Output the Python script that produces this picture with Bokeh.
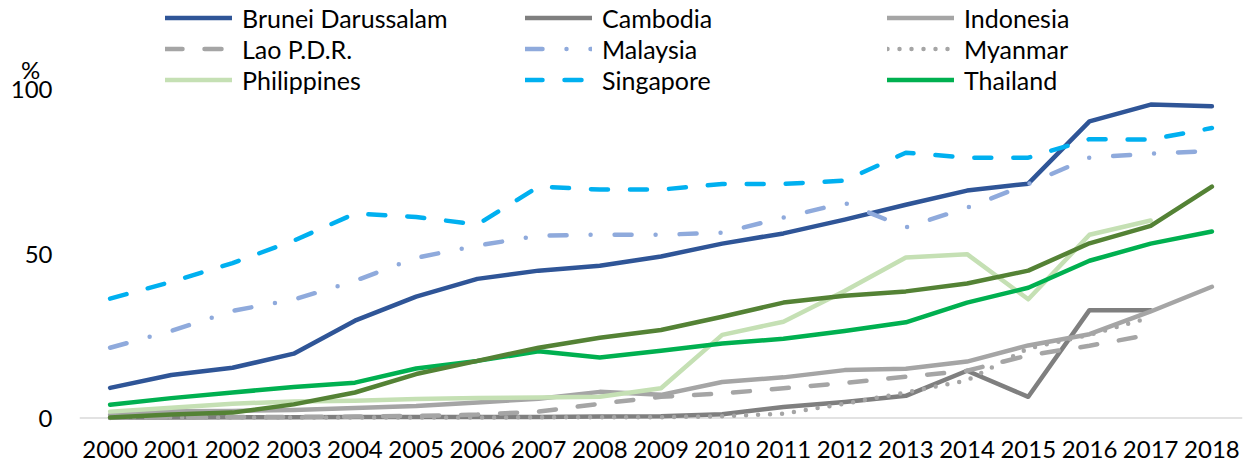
import numpy as np
from bokeh.plotting import figure
from bokeh.models import Range1d, FixedTicker, Legend, LegendItem, Span
from bokeh.embed import file_html
from bokeh.resources import INLINE

years = list(range(2000, 2019))
year_labels = [str(y) for y in years]
y_ticks = [0, 50, 100]
unit_label = "%"

brunei    = [9.1, 13.0, 15.2, 19.5, 29.5, 36.8, 42.2, 44.7, 46.2, 49.0, 52.9, 56.0, 60.2, 64.7, 69.0, 71.1, 90.0, 95.1, 94.6]
cambodia  = [0.1, 0.1, 0.2, 0.2, 0.3, 0.3, 0.3, 0.3, 0.4, 0.5, 1.1, 3.3, 4.8, 6.7, 14.3, 6.4, 32.7, 32.7, None]
indonesia = [0.9, 2.0, 2.1, 2.4, 3.0, 3.6, 4.7, 5.8, 7.9, 7.0, 10.9, 12.3, 14.5, 14.9, 17.1, 22.0, 25.4, 32.3, 39.8]
lao       = [0.1, 0.2, 0.3, 0.3, 0.4, 0.6, 1.0, 1.9, 4.3, 6.4, 7.4, 9.0, 10.6, 12.5, 14.3, 19.0, 21.9, 25.3, None]
malaysia  = [21.3, 26.4, 32.5, 35.9, 41.6, 48.6, 52.3, 55.3, 55.6, 55.6, 56.2, 60.8, 65.3, 57.8, 63.8, 71.0, 79.0, 80.2, 81.0]
myanmar   = [0.0, 0.1, 0.1, 0.1, 0.1, 0.1, 0.1, 0.2, 0.2, 0.2, 0.5, 1.3, 4.3, 7.7, 11.4, 21.1, 25.2, 30.5, None]
philippines = [1.9, 3.1, 4.3, 5.0, 5.2, 5.7, 6.0, 6.2, 6.4, 9.0, 25.2, 29.2, 38.5, 48.7, 49.7, 36.0, 55.6, 59.9, None]
singapore = [36.2, 41.3, 47.0, 53.8, 62.0, 61.0, 58.7, 70.2, 69.3, 69.3, 71.0, 71.0, 72.0, 80.5, 79.0, 79.0, 84.6, 84.5, 88.0]
thailand  = [4.0, 6.0, 7.7, 9.4, 10.7, 15.0, 17.3, 20.2, 18.3, 20.4, 22.6, 24.0, 26.4, 29.0, 35.0, 39.5, 47.7, 52.9, 56.6]
vietnam   = [0.1, 1.0, 1.6, 4.1, 7.7, 13.3, 17.3, 21.3, 24.3, 26.7, 30.7, 35.0, 37.1, 38.4, 40.8, 44.7, 53.0, 58.3, 70.2]

FONT = "Lato"

p = figure(frame_width=1163, frame_height=422,
           min_border_left=79, min_border_right=2, min_border_top=0, min_border_bottom=46,
           x_range=Range1d(1999.5, 2018.5), y_range=Range1d(-1.4, 126.7),
           output_backend="svg", toolbar_location=None)
p.outline_line_color = None
p.xgrid.visible = False
p.ygrid.visible = False
p.background_fill_color = "white"
p.border_fill_color = "white"

p.add_layout(Span(location=0, dimension="width", line_color="#D9D9D9", line_width=1.5, level="underlay"))

def arr(v):
    return [np.nan if x is None else x for x in v]

LW = 4.5
series = [
    ("Brunei Darussalam", brunei, "#2F5597", "solid"),
    ("Cambodia", cambodia, "#7F7F7F", "solid"),
    ("Indonesia", indonesia, "#A5A5A5", "solid"),
    ("Lao P.D.R.", lao, "#A5A5A5", "17 22"),
    ("Malaysia", malaysia, "#8FAADC", "17 24 0 24"),
    ("Myanmar", myanmar, "#A5A5A5", "0 12"),
    ("Philippines", philippines, "#C5E0B4", "solid"),
    ("Singapore", singapore, "#00B0F0", "17 22"),
    ("Thailand", thailand, "#00B050", "solid"),
    ("Viet Nam", vietnam, "#548235", "solid"),
]
rends = {}
for name, vals, color, dash in series:
    r = p.line(years, arr(vals), line_color=color, line_width=LW, line_dash=dash,
               line_cap="round", line_join="round")
    rends[name] = r

cols = [
    (["Brunei Darussalam", "Lao P.D.R.", "Philippines"], 86),
    (["Cambodia", "Malaysia", "Singapore"], 446),
    (["Indonesia", "Myanmar", "Thailand"], 808),
]
for names, vx in cols:
    leg = Legend(items=[LegendItem(label=n, renderers=[rends[n]]) for n in names],
                 location=(vx, 327), orientation="vertical",
                 padding=0, margin=0, spacing=0,
                 glyph_width=67, glyph_height=31, label_height=31, label_standoff=10,
                 label_text_font=FONT, label_text_font_size="25px", label_text_color="black",
                 border_line_color=None, background_fill_alpha=0)
    p.add_layout(leg, "center")

p.xaxis.ticker = FixedTicker(ticks=years)
p.xaxis.major_label_overrides = {y: s for y, s in zip(years, year_labels)}
p.xaxis.axis_line_color = None
p.xaxis.major_tick_line_color = None
p.xaxis.major_tick_out = 0
p.xaxis.major_tick_in = 0
p.xaxis.minor_tick_line_color = None
p.xaxis.major_label_standoff = 18
p.xaxis.major_label_text_font = FONT
p.xaxis.major_label_text_font_size = "24px"
p.xaxis.major_label_text_color = "black"

unit_pos = 105.8
p.yaxis.ticker = FixedTicker(ticks=y_ticks + [unit_pos])
p.yaxis.major_label_overrides = {unit_pos: unit_label + "\u00a0\u00a0"}
p.yaxis.axis_line_color = None
p.yaxis.major_tick_line_color = None
p.yaxis.major_tick_out = 0
p.yaxis.major_tick_in = 0
p.yaxis.minor_tick_line_color = None
p.yaxis.major_label_standoff = 27
p.yaxis.major_label_text_font = FONT
p.yaxis.major_label_text_font_size = "24px"
p.yaxis.major_label_text_color = "black"

open("out.html", "w").write(file_html(p, INLINE))
